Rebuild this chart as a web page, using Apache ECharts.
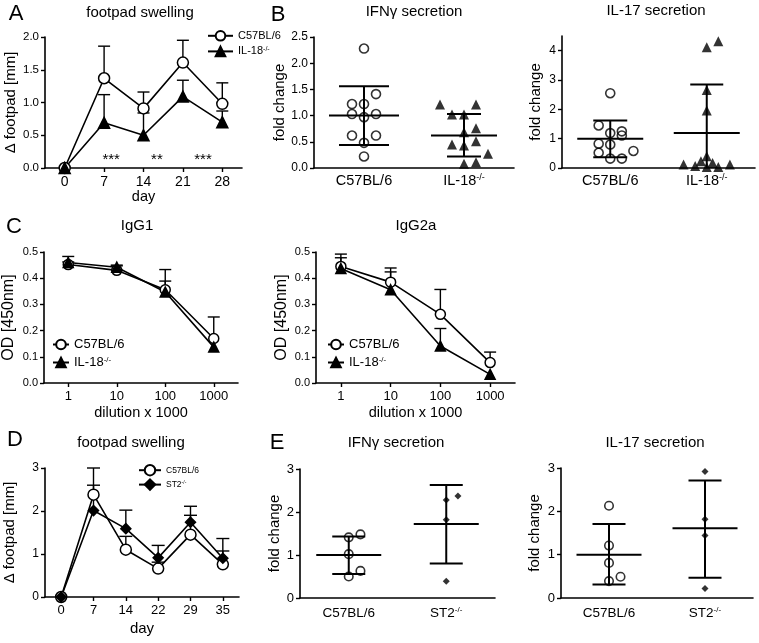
<!DOCTYPE html>
<html><head><meta charset="utf-8">
<script src="https://cdn.jsdelivr.net/npm/echarts@6/dist/echarts.min.js"></script>
<style>html,body{margin:0;padding:0;background:#fff}#c{width:759px;height:643px}</style>
</head><body><div id="c"></div>
<script>
// ---------------- DATA ----------------
// Panel A: footpad swelling (C57BL/6 vs IL-18-/-)
const aDays = ['0', '7', '14', '21', '28'];
const aC57 = [0, 1.37, 0.91, 1.61, 0.98];
const aC57Err = [0, 0.49, 0.25, 0.34, 0.32];
const aIL18 = [0, 0.69, 0.50, 1.09, 0.70];
const aIL18Err = [0, 0.43, 0.34, 0.25, 0.17];
const aStarPos = [1.18, 2.34, 3.51];
const aStarText = ['***', '**', '***'];
const aStarY = 0.12;
const aYTicks = [0, 0.5, 1.0, 1.5, 2.0];

// Panel B: IFNγ and IL-17 secretion
const bGroups = ['C57BL/6', 'IL-18-/-'];
const bIfnC57 = [2.28, 1.41, 1.22, 1.22, 1.03, 1.03, 0.97, 0.62, 0.62, 0.48, 0.22];
const bIfnC57Jit = [0, 0.12, -0.12, 0, -0.12, 0.12, 0, -0.12, 0.12, 0, 0];
const bIfnIL18 = [1.21, 1.21, 1.02, 1.02, 0.76, 0.68, 0.51, 0.45, 0.43, 0.27, 0.11, 0.08];
const bIfnIL18Jit = [-0.24, 0.12, -0.12, 0, 0.12, 0, 0.12, -0.12, 0, 0.24, 0.12, 0];
const bIfnStats = [[1.00, 1.56, 0.44], [0.62, 1.03, 0.22]]; // mean, mean+SD, mean-SD
const bIfnTicks = [0, 0.5, 1.0, 1.5, 2.0, 2.5];

const bIl17C57 = [2.55, 1.45, 1.25, 1.19, 1.11, 0.83, 0.80, 0.58, 0.52, 0.32, 0.32];
const bIl17C57Jit = [0, -0.12, 0.12, 0, 0.12, -0.12, 0, 0.24, -0.12, 0, 0.12];
const bIl17IL18 = [4.12, 4.32, 2.66, 1.96, 0.40, 0.23, 0.17, 0.12, 0.07, 0.12, 0.03, 0.03];
const bIl17IL18Jit = [0, 0.12, 0, 0, 0, -0.06, 0.06, -0.24, -0.12, 0.24, 0, 0.12];
const bIl17Stats = [[1.00, 1.62, 0.37], [1.19, 2.85, -0.47]];
const bIl17Ticks = [0, 1, 2, 3, 4];

// Panel C: IgG1 / IgG2a ELISA
const cDil = ['1', '10', '100', '1000'];
const g1C57 = [0.452, 0.430, 0.356, 0.170];
const g1C57Err = [0.010, 0.017, 0.077, 0.082];
const g1IL18 = [0.460, 0.442, 0.347, 0.137];
const g1IL18Err = [0.023, 0.008, 0.042, 0];
const g2C57 = [0.445, 0.385, 0.262, 0.078];
const g2C57Err = [0.047, 0.054, 0.095, 0.040];
const g2IL18 = [0.437, 0.356, 0.141, 0.033];
const g2IL18Err = [0.041, 0.068, 0.067, 0];
const cTicks = [0, 0.1, 0.2, 0.3, 0.4, 0.5];

// Panel D: footpad swelling (C57BL/6 vs ST2-/-)
const dDays = ['0', '7', '14', '22', '29', '35'];
const dC57 = [0, 2.38, 1.10, 0.66, 1.45, 0.76];
const dC57Err = [0, 0.62, 0.31, 0.15, 0.45, 0.31];
const dST2 = [0, 2.01, 1.59, 0.91, 1.74, 0.90];
const dST2Err = [0, 0.59, 0.43, 0.29, 0.37, 0.46];
const dTicks = [0, 1, 2, 3];

// Panel E: IFNγ and IL-17 secretion (ST2-/-)
const eGroups = ['C57BL/6', 'ST2-/-'];
const eIfnC57 = [1.41, 1.48, 1.02, 0.63, 0.50];
const eIfnC57Jit = [0, 0.12, 0, 0.12, 0];
const eIfnST2 = [2.28, 2.37, 1.82, 0.39];
const eIfnST2Jit = [0, 0.12, 0, 0];
const eIfnStats = [[1.00, 1.43, 0.56], [1.72, 2.63, 0.80]];
const eIl17C57 = [2.13, 1.21, 0.81, 0.39, 0.49];
const eIl17C57Jit = [0, 0, 0, 0, 0.12];
const eIl17ST2 = [2.92, 1.82, 1.44, 0.22];
const eIl17ST2Jit = [0, 0, 0, 0];
const eIl17Stats = [[1.00, 1.71, 0.31], [1.61, 2.71, 0.47]];
const eTicks = [0, 1, 2, 3];

// ---------------- HELPERS ----------------
const FONT = "'Liberation Sans', Arial, Helvetica, sans-serif";
const BLK = '#000';
const AXL = {show: true, onZero: false, lineStyle: {color: BLK, width: 1.6}};
const TKL = {color: BLK, width: 1.4};

function rich(fs) {
  return {
    a: {fontSize: fs, fontFamily: FONT, color: BLK},
    s: {fontSize: Math.round(fs * 0.6), fontFamily: FONT, color: BLK, verticalAlign: 'top'}
  };
}
function richName(n) {
  return n.endsWith('-/-') ? '{a|' + n.slice(0, -3) + '}{s|-/-}' : '{a|' + n + '}';
}

function idxX(gi, labels, name, gap, fs, nfs) {
  const idx = labels.map((_, i) => i);
  return {
    type: 'value', gridIndex: gi, min: -0.5, max: labels.length - 0.5,
    axisLine: AXL, splitLine: {show: false},
    axisTick: {show: true, customValues: idx, length: 4, lineStyle: TKL},
    axisLabel: {customValues: idx, formatter: v => labels[Math.round(v)], color: BLK, fontSize: fs, fontFamily: FONT, margin: 7},
    name: name, nameLocation: 'middle', nameGap: gap,
    nameTextStyle: {color: BLK, fontSize: nfs, fontFamily: FONT}
  };
}
function grpX(gi, groups, fs, margin) {
  return {
    type: 'value', gridIndex: gi, min: -0.5, max: 1.5,
    axisLine: AXL, splitLine: {show: false}, axisTick: {show: false},
    axisLabel: {customValues: [0, 1], formatter: v => richName(groups[Math.round(v)]), rich: rich(fs), margin: margin}
  };
}
function yAx(gi, max, ticks, dec, name, gap, fs, nfs) {
  return {
    type: 'value', gridIndex: gi, min: 0, max: max,
    axisLine: AXL, splitLine: {show: false},
    axisTick: {show: true, customValues: ticks, length: 4, lineStyle: TKL},
    axisLabel: {customValues: ticks, formatter: v => v.toFixed(dec), color: BLK, fontSize: fs, fontFamily: FONT, margin: 6},
    name: name, nameLocation: 'middle', nameGap: gap, nameRotate: 90,
    nameTextStyle: {color: BLK, fontSize: nfs, fontFamily: FONT}
  };
}
function lineS(gi, name, vals, symbol, size, fill) {
  return {
    type: 'line', name: name, xAxisIndex: gi, yAxisIndex: gi,
    data: vals.map((v, i) => [i, v]), symbol: symbol, symbolSize: size,
    itemStyle: {color: fill, borderColor: BLK, borderWidth: 1.5},
    lineStyle: {color: BLK, width: 1.6}, z: 3, silent: true
  };
}
function errS(gi, vals, errs, cap) {
  return {
    type: 'custom', xAxisIndex: gi, yAxisIndex: gi, z: 2, silent: true,
    data: vals.map((v, i) => [i, v, v + errs[i], errs[i]]),
    renderItem: (p, api) => {
      if (api.value(3) <= 0) return null;
      const a = api.coord([api.value(0), api.value(1)]);
      const b = api.coord([api.value(0), api.value(2)]);
      const st = {stroke: BLK, lineWidth: 1.4};
      return {type: 'group', children: [
        {type: 'line', shape: {x1: a[0], y1: a[1], x2: b[0], y2: b[1]}, style: st},
        {type: 'line', shape: {x1: b[0] - cap / 2, y1: b[1], x2: b[0] + cap / 2, y2: b[1]}, style: st}
      ]};
    }
  };
}
function dotS(gi, grp, vals, jit, symbol, size, hollow) {
  return {
    type: 'scatter', xAxisIndex: gi, yAxisIndex: gi, silent: true, z: 3,
    data: vals.map((v, i) => [grp + jit[i], v]), symbol: symbol, symbolSize: size,
    itemStyle: hollow ? {color: 'rgba(255,255,255,0)', borderColor: BLK, borderWidth: 1.6} : {color: BLK}
  };
}
function statS(gi, stats, widths) {
  return {
    type: 'custom', xAxisIndex: gi, yAxisIndex: gi, z: 4, clip: true, silent: true,
    data: stats.map((s, i) => [i, s[0], s[1], s[2]]),
    renderItem: (p, api) => {
      const x = api.value(0);
      const m = api.coord([x, api.value(1)]);
      const hi = api.coord([x, api.value(2)]);
      const lo = api.coord([x, api.value(3)]);
      const mw = widths[p.dataIndex][0], cw = widths[p.dataIndex][1];
      const st = {stroke: BLK, lineWidth: 2};
      return {type: 'group', children: [
        {type: 'line', shape: {x1: m[0] - mw / 2, y1: m[1], x2: m[0] + mw / 2, y2: m[1]}, style: st},
        {type: 'line', shape: {x1: hi[0], y1: hi[1], x2: lo[0], y2: lo[1]}, style: st},
        {type: 'line', shape: {x1: hi[0] - cw / 2, y1: hi[1], x2: hi[0] + cw / 2, y2: hi[1]}, style: st},
        {type: 'line', shape: {x1: lo[0] - cw / 2, y1: lo[1], x2: lo[0] + cw / 2, y2: lo[1]}, style: st}
      ]};
    }
  };
}
function legendAt(left, top, names, iw, ih, gap, fs) {
  return {
    data: names, left: left, top: top, orient: 'vertical', padding: 0,
    itemWidth: iw, itemHeight: ih, itemGap: gap, selectedMode: false,
    formatter: n => richName(n),
    textStyle: {color: BLK, fontSize: fs, fontFamily: FONT, rich: rich(fs)}
  };
}

// ---------------- OPTION ----------------
const grid = [
  {left: 45, top: 37, width: 197, height: 131},   // 0 A
  {left: 314, top: 37, width: 200, height: 131},  // 1 B IFNγ
  {left: 562, top: 36, width: 193, height: 132},  // 2 B IL-17
  {left: 43, top: 252, width: 195, height: 131},  // 3 C IgG1
  {left: 316, top: 252, width: 199, height: 131}, // 4 C IgG2a
  {left: 45, top: 468, width: 194, height: 129},  // 5 D
  {left: 300, top: 469, width: 195, height: 129}, // 6 E IFNγ
  {left: 561, top: 468, width: 192, height: 130}  // 7 E IL-17
];
const xAxis = [
  idxX(0, aDays, 'day', 20, 14, 14.5),
  grpX(1, bGroups, 14.5, 5),
  grpX(2, bGroups, 14.5, 5),
  idxX(3, cDil, 'dilution x 1000', 22, 13, 14.5),
  idxX(4, cDil, 'dilution x 1000', 22, 13, 14.5),
  idxX(5, dDays, 'day', 24, 13, 15),
  grpX(6, eGroups, 13.5, 8),
  grpX(7, eGroups, 13.5, 8)
];
const yAxis = [
  yAx(0, 2.0, aYTicks, 1, 'Δ footpad [mm]', 27, 11.5, 15),
  yAx(1, 2.5, bIfnTicks, 1, 'fold change', 26, 12, 15),
  yAx(2, 4.5, bIl17Ticks, 0, 'fold change', 19, 12, 15),
  yAx(3, 0.5, cTicks, 1, 'OD [450nm]', 27, 11, 16),
  yAx(4, 0.5, cTicks, 1, 'OD [450nm]', 26, 11, 16),
  yAx(5, 3, dTicks, 0, 'Δ footpad [mm]', 28, 12, 15),
  yAx(6, 3, eTicks, 0, 'fold change', 18, 13, 15),
  yAx(7, 3, eTicks, 0, 'fold change', 19, 13, 15)
];

const series = [
  // A
  errS(0, aC57, aC57Err, 12), errS(0, aIL18, aIL18Err, 12),
  lineS(0, 'C57BL/6', aC57, 'circle', 11, '#fff'),
  lineS(0, 'IL-18-/-', aIL18, 'triangle', 11, BLK),
  {
    type: 'custom', xAxisIndex: 0, yAxisIndex: 0, silent: true, z: 5,
    data: aStarPos.map(p => [p, aStarY]),
    renderItem: (p, api) => {
      const pt = api.coord([api.value(0), api.value(1)]);
      return {type: 'text', x: pt[0], y: pt[1], style: {text: aStarText[p.dataIndex], align: 'center', verticalAlign: 'middle', fontSize: 15, fontFamily: FONT, fill: BLK}};
    }
  },
  // B IFNγ
  dotS(1, 0, bIfnC57, bIfnC57Jit, 'circle', 9, true),
  dotS(1, 1, bIfnIL18, bIfnIL18Jit, 'triangle', 10, false),
  statS(1, bIfnStats, [[70, 50], [66, 34]]),
  // B IL-17
  dotS(2, 0, bIl17C57, bIl17C57Jit, 'circle', 9, true),
  dotS(2, 1, bIl17IL18, bIl17IL18Jit, 'triangle', 10, false),
  statS(2, bIl17Stats, [[66, 34], [66, 33]]),
  // C IgG1
  errS(3, g1C57, g1C57Err, 12), errS(3, g1IL18, g1IL18Err, 12),
  lineS(3, 'C57BL/6', g1C57, 'circle', 10, '#fff'),
  lineS(3, 'IL-18-/-', g1IL18, 'triangle', 10, BLK),
  // C IgG2a
  errS(4, g2C57, g2C57Err, 12), errS(4, g2IL18, g2IL18Err, 12),
  lineS(4, 'C57BL/6', g2C57, 'circle', 10, '#fff'),
  lineS(4, 'IL-18-/-', g2IL18, 'triangle', 10, BLK),
  // D
  errS(5, dC57, dC57Err, 13), errS(5, dST2, dST2Err, 13),
  lineS(5, 'C57BL/6', dC57, 'circle', 11, '#fff'),
  lineS(5, 'ST2-/-', dST2, 'diamond', 10, BLK),
  // E IFNγ
  dotS(6, 0, eIfnC57, eIfnC57Jit, 'circle', 8.5, true),
  dotS(6, 1, eIfnST2, eIfnST2Jit, 'diamond', 7, false),
  statS(6, eIfnStats, [[65, 33], [65, 33]]),
  // E IL-17
  dotS(7, 0, eIl17C57, eIl17C57Jit, 'circle', 8.5, true),
  dotS(7, 1, eIl17ST2, eIl17ST2Jit, 'diamond', 7, false),
  statS(7, eIl17Stats, [[65, 33], [65, 33]])
];

const labels = [
  ['A', 16, 14, 22], ['B', 278, 15, 22], ['C', 14, 227, 22], ['D', 15, 440, 22], ['E', 277, 443, 22],
  ['footpad swelling', 140, 13, 15], ['IFNγ secretion', 414, 12, 15], ['IL-17 secretion', 656, 11, 15],
  ['IgG1', 137, 226, 15], ['IgG2a', 416, 226, 15],
  ['footpad swelling', 131, 443, 15], ['IFNγ secretion', 396, 443, 15], ['IL-17 secretion', 655, 443, 15]
];

const option = {
  animation: false,
  backgroundColor: '#fff',
  textStyle: {fontFamily: FONT, color: BLK},
  grid: grid, xAxis: xAxis, yAxis: yAxis, series: series,
  legend: [
    legendAt(207, 30, ['C57BL/6', 'IL-18-/-'], 25, 12, 4, 11),
    legendAt(52, 338, ['C57BL/6', 'IL-18-/-'], 16, 12, 5, 13),
    legendAt(327, 338, ['C57BL/6', 'IL-18-/-'], 16, 12, 5, 13),
    legendAt(138, 464, ['C57BL/6', 'ST2-/-'], 22, 13, 2, 8.5)
  ],
  graphic: labels.map(t => ({
    type: 'text', x: t[1], y: t[2], z: 10, silent: true,
    style: {text: t[0], fontSize: t[3], fontFamily: FONT, fill: BLK, align: 'center', verticalAlign: 'middle'}
  }))
};

const chart = echarts.init(document.getElementById('c'), null, {renderer: 'canvas'});
chart.setOption(option);
</script></body></html>
